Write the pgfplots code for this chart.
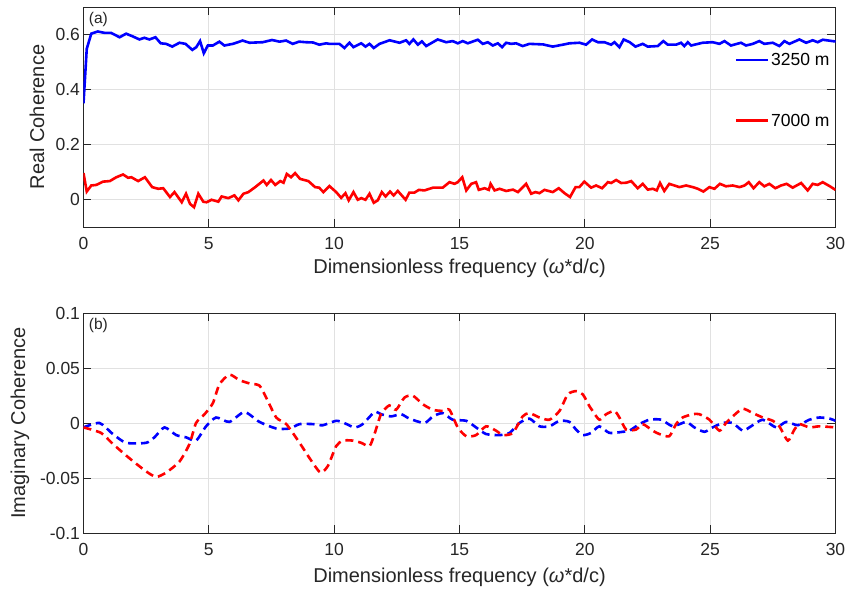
\documentclass[border=0pt]{standalone}
\usepackage{fontspec}
\setmainfont{Liberation Sans}
\usepackage{pgfplots}
\pgfplotsset{compat=1.18}
\definecolor{axgray}{RGB}{38,38,38}
\definecolor{gridgray}{RGB}{225,225,225}
\pgfplotsset{
  matlabaxis/.style={
    scale only axis, width=752pt, height=220pt,
    xmin=0, xmax=30, xtick={0,5,...,30},
    grid=major, major grid style={gridgray, line width=1pt},
    axis line style={axgray, line width=1pt},
    major tick length=8pt, tick style={axgray, line width=1pt},
    tick align=inside,
    /pgf/number format/assume math mode=true,
    ticklabel style={font=\fontsize{17.5}{20}\selectfont, text=axgray},
    xticklabel style={yshift=-7pt},
    label style={font=\fontsize{20}{24}\selectfont, text=axgray},
    xlabel={Dimensionless frequency (\textit{ω}*d/c)},
    legend image code/.code={\draw[#1, line width=2.8pt] (0pt,0pt) -- (32pt,0pt);},
  }
}
\begin{document}
\begin{tikzpicture}
\useasboundingbox (-83.5pt,227pt) rectangle (763.5pt,-363pt);
\begin{axis}[matlabaxis,
  ymin=-0.1, ymax=0.7, ytick={0,0.2,0.4,0.6},
  ylabel={Real Coherence},
  ylabel style={at={(rel axis cs:-0.0618,0.5)}, anchor=center},
  xlabel style={at={(rel axis cs:0.5,-0.19)}, anchor=center},
  legend style={draw=none, fill=none, at={(0.995,0.80)}, anchor=north east,
    row sep=43pt, font=\fontsize{17.5}{20}\selectfont, inner sep=0pt},
  legend cell align=left,
]
\addplot[blue, line width=2.6pt] coordinates {
(0,0.35) (0.13,0.548) (0.31,0.603) (0.57,0.611) (0.84,0.606) (1.1,0.606) (1.44,0.59) (1.70,0.603) (1.97,0.593) (2.23,0.582) (2.43,0.588) (2.63,0.582) (2.87,0.59) (3.08,0.568) (3.3,0.566) (3.54,0.556) (3.83,0.57) (4.07,0.566) (4.34,0.544) (4.5,0.554) (4.65,0.576) (4.8,0.532) (4.96,0.56) (5.16,0.56) (5.42,0.574) (5.62,0.56) (5.96,0.566) (6.35,0.578) (6.62,0.57) (7.15,0.572) (7.52,0.58) (7.82,0.574) (8.08,0.578) (8.35,0.566) (8.6,0.574) (8.87,0.572) (9.15,0.571) (9.41,0.563) (9.68,0.568)
(9.81,0.566) (10.21,0.566) (10.41,0.551) (10.61,0.570) (10.77,0.554) (11.08,0.568) (11.25,0.556) (11.41,0.566) (11.58,0.551) (11.81,0.566) (12.21,0.579) (12.61,0.570) (12.87,0.579) (13.0,0.566) (13.16,0.582) (13.34,0.563) (13.5,0.575) (13.67,0.558) (14.13,0.582) (14.47,0.572) (14.73,0.576) (14.93,0.568) (15.13,0.576) (15.33,0.568) (15.73,0.581) (15.93,0.566) (16.13,0.572) (16.33,0.560) (16.53,0.568) (16.70,0.554) (16.86,0.570) (17.06,0.566) (17.26,0.568) (17.52,0.558) (17.79,0.566) (18.33,0.564) (18.72,0.556) (19.12,0.563) (19.39,0.568) (19.79,0.570)
(20.05,0.563) (20.29,0.582) (20.52,0.572) (20.78,0.572) (21.05,0.563) (21.18,0.572) (21.38,0.554) (21.55,0.582) (21.79,0.572) (22.02,0.556) (22.31,0.566) (22.51,0.556) (22.91,0.558) (23.13,0.576) (23.31,0.563) (23.64,0.563) (23.84,0.570) (23.97,0.558) (24.11,0.572) (24.24,0.560) (24.70,0.570) (25.10,0.572) (25.37,0.566) (25.57,0.576) (25.83,0.560) (26.23,0.570) (26.43,0.560) (26.70,0.566) (26.96,0.576) (27.16,0.566) (27.50,0.570) (27.76,0.558) (27.96,0.576) (28.16,0.566) (28.56,0.582) (28.83,0.570) (29.09,0.579) (29.29,0.572) (29.49,0.581) (29.96,0.575) (30,0.575)
};
\addlegendentry{3250 m}
\addplot[red, line width=2.6pt] coordinates {
(0,0.096) (0.13,0.029) (0.31,0.051) (0.51,0.053) (0.78,0.065) (1.05,0.067) (1.31,0.081) (1.58,0.091) (1.78,0.079) (1.91,0.081) (2.18,0.067) (2.45,0.081) (2.74,0.045) (2.98,0.039) (3.18,0.041) (3.45,0.009) (3.63,0.027) (3.92,-0.010) (4.09,0.021) (4.25,-0.016) (4.41,-0.028) (4.58,0.021) (4.78,-0.008) (4.91,-0.010) (5.11,-0.001) (5.38,-0.008) (5.51,0.011) (5.78,0.005) (6.02,0.015) (6.18,-0.003) (6.38,0.021) (6.58,0.027) (6.85,0.045) (7.18,0.069) (7.31,0.053) (7.48,0.071) (7.65,0.053) (7.85,0.067) (7.98,0.061) (8.11,0.093) (8.28,0.081) (8.44,0.096) (8.64,0.075) (8.97,0.067) (9.24,0.045) (9.4,0.043) (9.57,0.027) (9.81,0.049)
(10.08,0.027) (10.28,0.006) (10.45,0.023) (10.58,-0.003) (10.77,0.027) (10.94,-0.001) (11.08,0.005) (11.25,-0.001) (11.41,0.021) (11.58,-0.012) (11.74,-0.003) (11.90,0.027) (12.05,0.011) (12.23,0.029) (12.37,0.015) (12.54,0.031) (12.85,-0.001) (13.0,0.025) (13.2,0.025) (13.38,0.035) (13.6,0.033) (13.94,0.043) (14.33,0.043) (14.6,0.063) (14.80,0.057) (14.93,0.063) (15.11,0.081) (15.27,0.033) (15.47,0.057) (15.66,0.063) (15.77,0.035) (16.0,0.041) (16.17,0.035) (16.24,0.057) (16.40,0.033) (16.60,0.039) (16.86,0.031) (17.13,0.036) (17.33,0.027) (17.66,0.057) (17.86,0.021) (18.03,0.027) (18.19,0.023) (18.39,0.035) (18.72,0.027) (18.96,0.041) (19.19,0.023) (19.41,0.009) (19.63,0.045)
(19.78,0.045) (19.98,0.065) (20.25,0.043) (20.45,0.051) (20.69,0.041) (20.92,0.063) (21.05,0.060) (21.25,0.071) (21.45,0.060) (21.65,0.061) (21.85,0.067) (22.11,0.041) (22.31,0.057) (22.51,0.036) (22.71,0.039) (22.87,0.033) (23.0,0.060) (23.17,0.031) (23.37,0.057) (23.57,0.051) (23.77,0.045) (24.04,0.051) (24.31,0.045) (24.51,0.039) (24.73,0.029) (24.97,0.045) (25.17,0.039) (25.39,0.057) (25.63,0.048) (25.90,0.051) (26.17,0.045) (26.37,0.051) (26.54,0.063) (26.73,0.041) (26.96,0.063) (27.16,0.048) (27.36,0.057) (27.60,0.041) (27.83,0.051) (28.05,0.057) (28.29,0.043) (28.63,0.060) (28.89,0.033) (29.09,0.057) (29.29,0.053) (29.49,0.063) (29.76,0.049) (30,0.035)
};
\addlegendentry{7000 m}
\node[anchor=north west, font=\fontsize{15.5}{18}\selectfont, text=axgray, inner sep=0pt] at (rel axis cs:0.007,0.975) {(a)};
\end{axis}
\begin{axis}[matlabaxis, at={(0pt,-306pt)}, anchor=south west,
  ymin=-0.1, ymax=0.1, ytick={-0.1,-0.05,0,0.05,0.1},
  yticklabels={-0.1,-0.05,0,0.05,0.1},
  ylabel={Imaginary Coherence},
  ylabel style={at={(rel axis cs:-0.0844,0.5)}, anchor=center},
  xlabel style={at={(rel axis cs:0.5,-0.201)}, anchor=center},
]
\addplot[blue, line width=2.6pt, dash pattern=on 8pt off 5pt, smooth, tension=0.4] coordinates {
(0,-0.004) (0.64,0) (1.17,-0.01) (1.7,-0.018) (2.5,-0.018) (2.83,-0.013) (3.23,-0.004) (3.7,-0.011) (4.09,-0.013) (4.49,-0.016) (4.89,-0.003) (5.29,0.005) (5.82,0.001) (6.42,0.010) (7.02,0.001) (7.69,-0.005) (8.22,-0.005) (8.62,-0.001) (9.15,-0.001) (9.55,-0.002) (10.08,0.002) (10.4,0) (10.81,-0.004) (11.14,-0.001) (11.61,0.010) (11.87,0.008) (12.27,0.006) (12.67,0.008) (13.0,0.004) (13.6,0) (13.94,0.006) (14.33,0.009) (14.73,0.003) (15.27,0.002) (15.66,-0.004) (16.06,-0.010) (16.60,-0.011) (17.0,-0.009) (17.39,0) (17.79,0.004) (18.19,-0.003) (18.59,-0.003) (18.99,0.002) (19.39,0.001) (19.65,-0.006) (19.92,-0.011) (20.25,-0.009) (20.58,-0.003) (20.98,-0.009) (21.51,-0.008) (21.78,-0.007) (22.18,-0.001) (22.58,0.003) (23.05,0.003) (23.51,-0.003) (24.04,0.001) (24.37,-0.004) (24.77,-0.008) (25.1,-0.004) (25.5,0) (25.9,0) (26.30,-0.007) (26.63,-0.003) (27.1,0.003) (27.63,-0.004) (28.03,0.001) (28.50,-0.002) (28.96,0.003) (29.36,0.005) (29.76,0.004) (30,0.002)
};
\addplot[red, line width=2.6pt, dash pattern=on 8pt off 5pt, smooth, tension=0.4] coordinates {
(0,-0.004) (0.7,-0.009) (1.17,-0.019) (1.83,-0.032) (2.5,-0.044) (2.9,-0.049) (3.3,-0.045) (3.83,-0.035) (4.23,-0.019) (4.49,0) (4.83,0.008) (5.16,0.018) (5.42,0.035) (5.82,0.044) (6.22,0.039) (6.62,0.036) (7.02,0.034) (7.29,0.023) (7.69,0.005) (8.09,-0.001) (8.62,-0.018) (9.02,-0.032) (9.45,-0.045) (9.75,-0.039) (10.08,-0.021) (10.35,-0.016) (10.74,-0.016) (11.08,-0.018) (11.41,-0.021) (11.61,-0.010) (11.87,0.008) (12.2,0.016) (12.47,0.012) (12.8,0.023) (13.13,0.025) (13.54,0.017) (13.94,0.012) (14.33,0.011) (14.60,0.012) (14.93,-0.004) (15.27,-0.012) (15.66,-0.011) (16.06,-0.003) (16.46,-0.007) (16.73,-0.011) (17.13,-0.009) (17.52,0.006) (17.79,0.009) (18.19,0.005) (18.59,0.003) (18.99,0.011) (19.32,0.026) (19.65,0.029) (19.92,0.026) (20.19,0.015) (20.31,0.011) (20.58,0.003) (20.85,0.008) (21.18,0.011) (21.38,0.005) (21.65,-0.006) (22.04,-0.006) (22.31,-0.001) (22.71,-0.007) (22.97,-0.010) (23.37,-0.012) (23.64,-0.001) (23.9,0.005) (24.31,0.008) (24.57,0.008) (24.97,0.003) (25.37,-0.007) (25.63,0) (25.90,0.006) (26.30,0.013) (26.70,0.009) (27.10,0.005) (27.50,0.002) (27.76,-0.003) (28.1,-0.016) (28.36,-0.006) (28.56,-0.001) (28.96,-0.004) (29.36,-0.003) (30,-0.004)
};
\node[anchor=north west, font=\fontsize{15.5}{18}\selectfont, text=axgray, inner sep=0pt] at (rel axis cs:0.007,0.975) {(b)};
\end{axis}
\end{tikzpicture}
\end{document}
